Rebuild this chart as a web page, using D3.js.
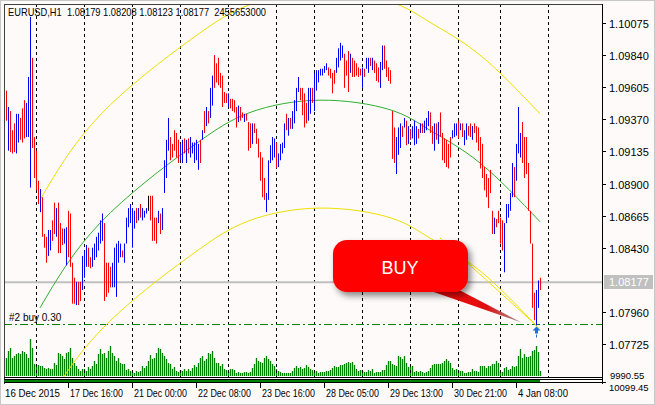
<!DOCTYPE html>
<html><head><meta charset="utf-8">
<script src="https://cdn.jsdelivr.net/npm/d3@7"></script>
<style>body{margin:0;background:#fff}svg{display:block;font-family:"Liberation Sans",Arial,sans-serif}</style>
</head><body><svg id="c" width="655" height="405"></svg>
<script>
const highs=[
1.0958,1.0946,1.0943,1.0929,1.0934,1.0941,1.0941,1.0938,1.0945,1.0951,
1.0949,1.0968,1.1012,1.0982,1.0924,1.0914,1.0892,1.0886,1.0880,1.0853,
1.0851,1.0856,1.0856,1.0863,1.0876,1.0872,1.0876,1.0861,1.0857,1.0857,
1.0858,1.0870,1.0868,1.0832,1.0821,1.0818,1.0818,1.0818,1.0837,1.0841,
1.0845,1.0843,1.0836,1.0843,1.0846,1.0851,1.0854,1.0863,1.0868,1.0861,
1.0832,1.0832,1.0829,1.0832,1.0843,1.0846,1.0848,1.0846,1.0841,1.0846,
1.0865,1.0872,1.0875,1.0872,1.0870,1.0872,1.0872,1.0875,1.0872,1.0870,
1.0872,1.0881,1.0881,1.0881,1.0865,1.0865,1.0870,1.0868,1.0872,1.0907,
1.0922,1.0938,1.0924,1.0919,1.0929,1.0927,1.0922,1.0919,1.0922,1.0923,
1.0922,1.0923,1.0924,1.0920,1.0920,1.0922,1.0919,1.0922,1.0929,1.0943,
1.0946,1.0943,1.0960,1.0969,1.0984,1.0978,1.0982,1.0971,1.0969,1.0957,
1.0956,1.0956,1.0952,1.0952,1.0951,1.0946,1.0947,1.0946,1.0942,1.0941,
1.0941,1.0935,1.0934,1.0934,1.0934,1.0930,1.0923,1.0913,1.0909,1.0894,
1.0883,1.0907,1.0918,1.0924,1.0923,1.0920,1.0912,1.0919,1.0920,1.0934,
1.0941,1.0938,1.0938,1.0943,1.0951,1.0960,1.0968,1.0960,1.0960,1.0956,
1.0949,1.0960,1.0960,1.0960,1.0971,1.0973,1.0973,1.0974,1.0974,1.0976,
1.0978,1.0975,1.0974,1.0971,1.0973,1.0982,1.0989,1.0993,1.0991,1.0985,
1.0980,1.0987,1.0985,1.0982,1.0980,1.0978,1.0975,1.0974,1.0975,1.0974,
1.0982,1.0982,1.0982,1.0982,1.0980,1.0978,1.0975,1.0979,1.0991,1.0991,
1.0980,1.0975,1.0973,1.0943,1.0931,1.0924,1.0931,1.0934,1.0932,1.0938,
1.0936,1.0932,1.0930,1.0932,1.0936,1.0932,1.0930,1.0934,1.0934,1.0936,
1.0938,1.0943,1.0942,1.0932,1.0934,1.0934,1.0935,1.0942,1.0927,1.0923,
1.0922,1.0919,1.0924,1.0929,1.0934,1.0934,1.0936,1.0934,1.0934,1.0929,
1.0934,1.0932,1.0934,1.0932,1.0934,1.0932,1.0931,1.0924,1.0919,1.0902,
1.0897,1.0894,1.0900,1.0870,1.0865,1.0864,1.0870,1.0865,1.0863,1.0861,
1.0875,1.0875,1.0883,1.0905,1.0902,1.0919,1.0946,1.0927,1.0935,1.0924,
1.0924,1.0905,1.0870,1.0846,1.0810,1.0812,1.0819,1.0821];
const lows=[
1.0936,1.0914,1.0913,1.0912,1.0913,1.0912,1.0920,1.0922,1.0920,1.0923,
1.0924,1.0924,1.0887,1.0916,1.0894,1.0885,1.0875,1.0869,1.0851,1.0843,
1.0832,1.0837,1.0841,1.0848,1.0853,1.0851,1.0839,1.0839,1.0845,1.0846,
1.0830,1.0836,1.0829,1.0802,1.0802,1.0801,1.0801,1.0804,1.0812,1.0821,
1.0829,1.0829,1.0828,1.0829,1.0834,1.0836,1.0841,1.0846,1.0848,1.0804,
1.0807,1.0810,1.0814,1.0814,1.0814,1.0807,1.0832,1.0836,1.0836,1.0832,
1.0846,1.0858,1.0861,1.0843,1.0857,1.0861,1.0863,1.0865,1.0863,1.0865,
1.0868,1.0870,1.0863,1.0848,1.0848,1.0846,1.0861,1.0853,1.0856,1.0883,
1.0894,1.0914,1.0907,1.0909,1.0914,1.0909,1.0905,1.0907,1.0905,1.0912,
1.0905,1.0912,1.0909,1.0912,1.0905,1.0907,1.0900,1.0905,1.0922,1.0927,
1.0932,1.0934,1.0938,1.0947,1.0960,1.0964,1.0962,1.0960,1.0946,1.0949,
1.0949,1.0946,1.0945,1.0943,1.0942,1.0931,1.0935,1.0936,1.0938,1.0935,
1.0936,1.0914,1.0916,1.0919,1.0927,1.0919,1.0909,1.0892,1.0880,1.0878,
1.0869,1.0878,1.0905,1.0907,1.0909,1.0901,1.0902,1.0907,1.0912,1.0916,
1.0929,1.0925,1.0930,1.0930,1.0934,1.0943,1.0957,1.0951,1.0940,1.0931,
1.0934,1.0936,1.0941,1.0949,1.0943,1.0958,1.0964,1.0969,1.0969,1.0971,
1.0973,1.0969,1.0967,1.0956,1.0963,1.0971,1.0975,1.0980,1.0982,1.0960,
1.0969,1.0957,1.0971,1.0968,1.0968,1.0969,1.0968,1.0969,1.0960,1.0968,
1.0974,1.0971,1.0976,1.0973,1.0971,1.0965,1.0964,1.0960,1.0973,1.0974,
1.0968,1.0965,1.0963,1.0908,1.0905,1.0897,1.0911,1.0916,1.0924,1.0931,
1.0918,1.0919,1.0922,1.0923,1.0918,1.0919,1.0923,1.0927,1.0927,1.0927,
1.0929,1.0932,1.0927,1.0919,1.0914,1.0922,1.0919,1.0924,1.0907,1.0905,
1.0902,1.0901,1.0909,1.0923,1.0924,1.0925,1.0923,1.0929,1.0924,1.0918,
1.0922,1.0925,1.0924,1.0922,1.0927,1.0920,1.0914,1.0901,1.0894,1.0885,
1.0880,1.0872,1.0883,1.0853,1.0853,1.0858,1.0861,1.0846,1.0841,1.0825,
1.0861,1.0865,1.0870,1.0880,1.0880,1.0892,1.0912,1.0909,1.0905,1.0894,
1.0897,1.0870,1.0846,1.0799,1.0790,1.0786,1.0799,1.0812];
const dirs=[
-1,1,-1,-1,-1,1,1,-1,-1,-1,
1,1,1,-1,-1,-1,-1,1,-1,-1,
-1,1,1,-1,-1,1,-1,-1,-1,1,
1,-1,-1,-1,-1,1,-1,-1,1,1,
1,-1,-1,1,1,1,1,1,1,-1,
-1,-1,-1,1,1,1,1,1,-1,1,
1,1,1,1,1,-1,1,-1,1,1,
1,0,-1,-1,-1,-1,1,-1,1,1,
1,1,-1,-1,-1,-1,-1,1,1,-1,
1,-1,1,1,1,1,1,-1,1,-1,
1,-1,1,1,-1,-1,-1,-1,-1,-1,
-1,1,-1,-1,-1,-1,1,-1,-1,1,
-1,-1,-1,1,-1,-1,-1,-1,-1,-1,
1,1,1,1,1,-1,1,1,1,1,
-1,1,-1,1,1,1,1,-1,-1,-1,
-1,1,1,-1,1,1,1,1,1,1,
1,-1,-1,-1,-1,1,1,1,1,-1,
-1,-1,1,-1,-1,-1,-1,-1,1,-1,
1,1,-1,1,-1,-1,-1,1,1,-1,
-1,-1,-1,-1,-1,1,1,1,-1,1,
-1,1,-1,1,1,1,-1,1,-1,1,
1,1,-1,-1,1,-1,1,-1,-1,-1,
-1,-1,-1,1,1,1,-1,1,-1,1,
1,-1,-1,1,-1,-1,-1,-1,-1,-1,
-1,-1,-1,-1,1,-1,-1,-1,-1,1,
1,1,1,1,-1,1,1,1,-1,-1,
-1,-1,-1,-1,-1,1,1,-1];
const volumes=[
18,25,28,18,20,22,23,22,25,24, 22,18,37,28,12,11,11,10,10,8,
7,8,7,7,13,11,23,22,20,17, 23,24,28,18,13,10,7,5,7,7,
5,9,7,10,15,12,22,27,22,23, 18,25,30,23,20,15,18,13,12,12,
6,7,5,4,3,5,4,5,10,8, 10,15,21,17,18,23,28,27,23,20,
17,13,12,7,9,5,4,6,5,7, 5,7,5,8,11,9,13,18,20,15,
17,23,22,25,18,13,13,10,12,7, 6,5,7,7,6,3,4,3,3,4,
4,3,4,8,12,18,15,14,13,18, 20,17,15,12,10,7,5,4,3,3,
3,3,3,5,8,10,8,9,7,8, 11,9,7,6,4,5,3,4,4,4,
5,5,6,8,10,9,9,11,11,12, 13,14,13,14,11,7,5,6,6,4,
4,6,5,7,3,4,4,4,6,6, 11,15,15,12,11,10,20,19,17,20,
13,9,9,10,4,5,4,5,4,3, 4,5,8,11,12,12,12,12,13,15,
17,15,13,8,6,7,6,5,5,3, 3,4,4,7,5,5,4,10,10,10,
8,10,10,12,12,15,13,4,4,8, 9,6,7,10,9,10,20,27,18,22,
19,19,20,25,26,30,24,5];
const priceTicks=["1.10075","1.09840","1.09605","1.09370","1.09135","1.08900","1.08665","1.08430","1.07960","1.07725"];
const lastPrice=1.08177;
const orderPrice=1.07872;
const timeLabels=["16 Dec 2015","17 Dec 16:00","21 Dec 00:00","22 Dec 08:00","23 Dec 16:00","28 Dec 05:00","29 Dec 13:00","30 Dec 21:00","4 Jan 08:00"];
const timeLabelIdx=[0,31,63,95,127,159,191,223,255];
const sepIdx=[15,39,63,87,111,135,154,178,202,226,247,271];
const chanIdx=[17,47,92,122,157,192,212,237,267];
const chanMid=[1.0799,1.0861,1.0916,1.0942,1.0951,1.0944,1.0929,1.0905,1.0862];
const chanHalf=0.0079;
const buyIdx=265;
const title="EURUSD,H1  1.08179 1.08208 1.08123 1.08177  2455653000";

const svg=d3.select("#c");
const x=d3.scaleLinear([0,1],[6,8]);
const y=d3.scaleLinear([1.10075,1.07725],[23,344]);
const yv=d3.scaleLinear([0,37],[376,339]);
const L=4,R=602,T=4,B=377;

svg.append("rect").attr("width",655).attr("height",405).attr("fill","#fffafa");
svg.append("rect").attr("x",0.5).attr("y",0.5).attr("width",654).attr("height",404).attr("fill","none").attr("stroke","#c8c8c8");
const defs=svg.append("defs");
defs.append("clipPath").attr("id","clp").append("rect").attr("x",L+1).attr("y",T+1).attr("width",R-L-1).attr("height",B-T-1);
const sh=defs.append("filter").attr("id","sh").attr("x","-20%").attr("y","-20%").attr("width","150%").attr("height","160%");
sh.append("feDropShadow").attr("dx",3).attr("dy",4).attr("stdDeviation",3).attr("flood-color","#000").attr("flood-opacity",0.45);
const tg=defs.append("linearGradient").attr("id","tg").attr("x1","0").attr("x2","1").attr("y1","0").attr("y2","0");
tg.append("stop").attr("offset","0").attr("stop-color","#ff0000");
tg.append("stop").attr("offset","0.7").attr("stop-color","#e01010");
tg.append("stop").attr("offset","1").attr("stop-color","#9a9a9a");

const g=svg.append("g").attr("clip-path","url(#clp)");
g.selectAll(".v").data(volumes).join("line")
 .attr("x1",(d,i)=>x(i)+0.5).attr("x2",(d,i)=>x(i)+0.5).attr("y1",yv(0)).attr("y2",d=>yv(d))
 .attr("stroke","#008000").attr("stroke-width",1.3);
g.selectAll(".s").data(sepIdx).join("line")
 .attr("x1",d=>x(d)+0.5).attr("x2",d=>x(d)+0.5).attr("y1",T).attr("y2",B)
 .attr("stroke","#000").attr("stroke-dasharray","3,3");
g.append("line").attr("x1",L).attr("x2",R).attr("y1",y(lastPrice)).attr("y2",y(lastPrice)).attr("stroke","#c0c0c0").attr("stroke-width",2);
g.append("line").attr("x1",L).attr("x2",R).attr("y1",Math.round(y(orderPrice))+0.5).attr("y2",Math.round(y(orderPrice))+0.5)
 .attr("stroke","#008000").attr("stroke-dasharray","8,3,2,3");
g.append("text").attr("x",9).attr("y",y(orderPrice)-3).attr("font-size",10).text("#2 buy 0.30");
const line=d3.line().x(d=>x(d[0])).y(d=>y(d[1])).curve(d3.curveNatural);
const mid=chanIdx.map((d,i)=>[d,chanMid[i]]);
g.append("path").attr("d",line(mid.map(d=>[d[0],d[1]+chanHalf]))).attr("fill","none").attr("stroke","#f0e000");
g.append("path").attr("d",line(mid.map(d=>[d[0],d[1]-chanHalf]))).attr("fill","none").attr("stroke","#f0e000");
g.append("path").attr("d",line(mid)).attr("fill","none").attr("stroke","#30b030");
g.selectAll(".b").data(highs).join("line")
 .attr("x1",(d,i)=>x(i)+0.5).attr("x2",(d,i)=>x(i)+0.5)
 .attr("y1",d=>y(d)).attr("y2",(d,i)=>y(lows[i]))
 .attr("stroke",(d,i)=>dirs[i]>0?"#0000ff":dirs[i]<0?"#ff0000":"#000").attr("stroke-width",1);
const ax=x(buyIdx)+0.5, ay=y(lows[buyIdx]);
g.append("line").attr("x1",440).attr("y1",238).attr("x2",ax).attr("y2",ay).attr("stroke","#f0e000");
g.append("polygon").attr("points",`405,282 440,280 ${ax-15},${ay-3}`).attr("fill","url(#tg)");
g.append("rect").attr("x",333).attr("y",240).attr("width",135).attr("height",52).attr("rx",14)
 .attr("fill","#ff0000").attr("filter","url(#sh)");
g.append("text").attr("x",400).attr("y",274).attr("text-anchor","middle").attr("fill","#fff")
 .attr("font-size",18).attr("font-family","Liberation Sans").text("BUY");
g.append("path").attr("d",`M${ax},${ay+1} l-4,4 h2.5 v3 h3 v-3 h2.5 z`).attr("fill","#1e6ed8");
g.append("line").attr("x1",ax).attr("x2",ax).attr("y1",ay+9).attr("y2",ay+12).attr("stroke","#1e6ed8");
svg.append("line").attr("x1",L+0.5).attr("x2",L+0.5).attr("y1",T).attr("y2",384).attr("stroke","#404040");
svg.append("line").attr("x1",L).attr("x2",R).attr("y1",T+0.5).attr("y2",T+0.5).attr("stroke","#404040");
svg.append("line").attr("x1",R+0.5).attr("x2",R+0.5).attr("y1",T).attr("y2",384).attr("stroke","#000");
svg.append("line").attr("x1",L).attr("x2",R).attr("y1",B+0.5).attr("y2",B+0.5).attr("stroke","#000");
svg.append("line").attr("x1",L).attr("x2",R).attr("y1",379.5).attr("y2",379.5).attr("stroke","#000");
svg.append("line").attr("x1",L).attr("x2",R).attr("y1",382.5).attr("y2",382.5).attr("stroke","#000");
svg.append("line").attr("x1",L).attr("x2",x(267)).attr("y1",381).attr("y2",381).attr("stroke","#008000").attr("stroke-width",2);
const pa=svg.append("g");
priceTicks.forEach(t=>{const yy=Math.round(y(+t))+0.5;
 pa.append("line").attr("x1",R).attr("x2",R+4).attr("y1",yy).attr("y2",yy).attr("stroke","#000");
 pa.append("text").attr("x",609).attr("y",yy+4).attr("font-size",11).text(t);});
const ly=Math.round(y(lastPrice));
pa.append("rect").attr("x",604).attr("y",ly-7).attr("width",49).attr("height",14).attr("fill","#c0c0c0");
pa.append("text").attr("x",609).attr("y",ly+4).attr("font-size",11).attr("fill","#fff").text(lastPrice.toFixed(5));
pa.append("line").attr("x1",R).attr("x2",R+4).attr("y1",382.5).attr("y2",382.5).attr("stroke","#000");
pa.append("text").attr("x",610).attr("y",379).attr("font-size",9.5).text("9990.55");
pa.append("text").attr("x",609).attr("y",391).attr("font-size",9.5).text("10099.45");
timeLabels.forEach((t,i)=>{const xi=x(timeLabelIdx[i]);
 if(i>0) svg.append("line").attr("x1",Math.round(xi)+0.5).attr("x2",Math.round(xi)+0.5).attr("y1",383).attr("y2",388).attr("stroke","#000");
 svg.append("text").attr("x",i===0?5:xi+2).attr("y",397).attr("font-size",10)
  .attr("textLength",i===0?55:(i===8?50:53)).attr("lengthAdjust","spacingAndGlyphs").text(t);});
svg.append("text").attr("x",8).attr("y",16).attr("font-size",11).attr("textLength",258).attr("lengthAdjust","spacingAndGlyphs")
 .attr("xml:space","preserve").style("white-space","pre").text(title);
</script></body></html>
